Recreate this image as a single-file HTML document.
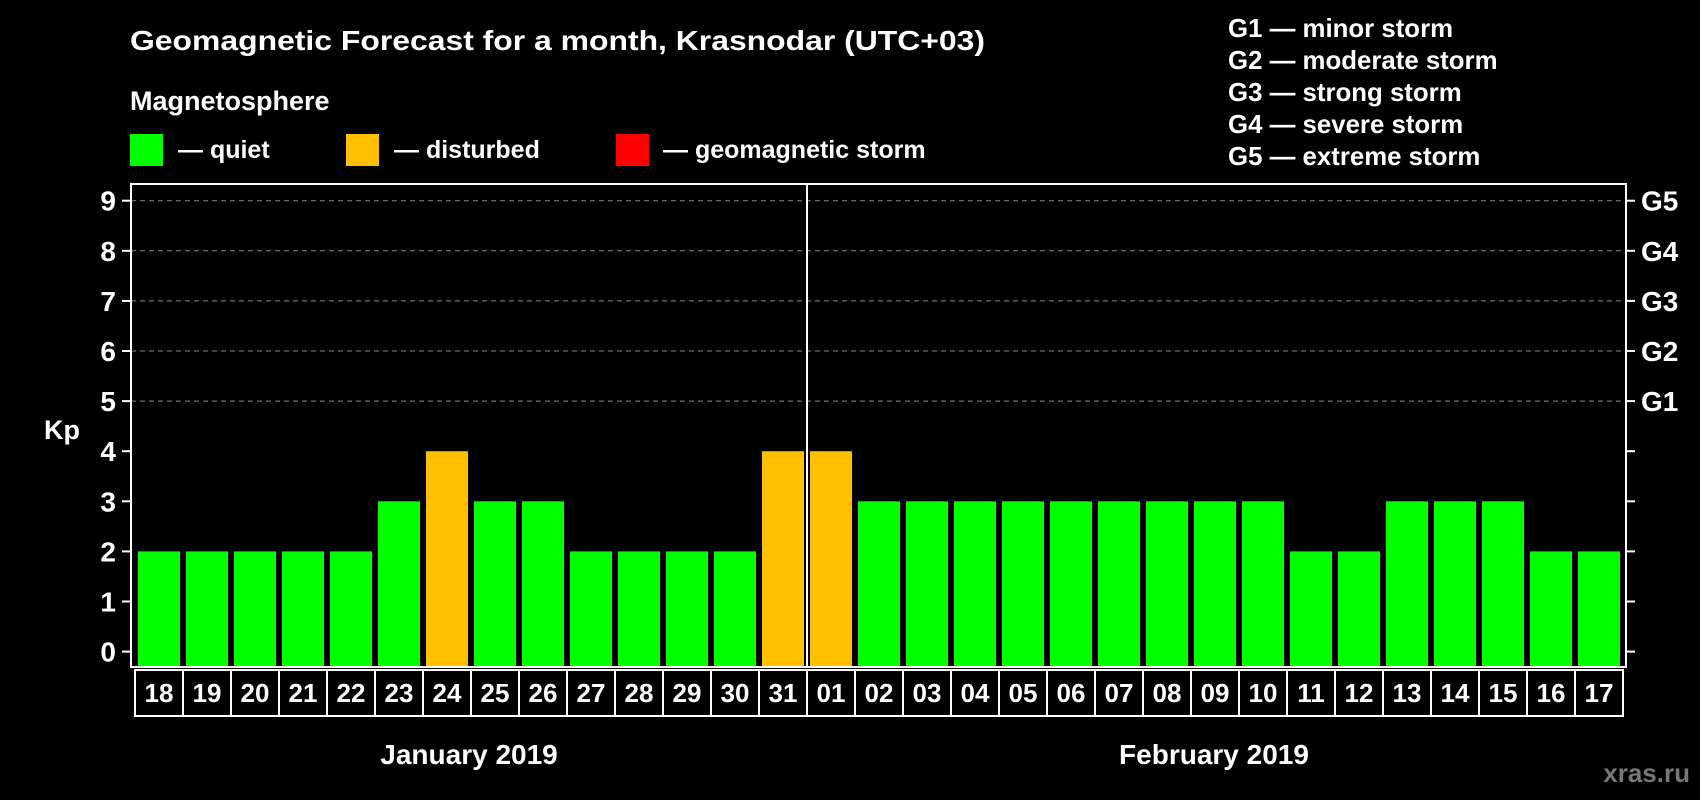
<!DOCTYPE html>
<html><head><meta charset="utf-8"><style>
html,body{margin:0;padding:0;background:#000;}
svg{display:block;font-family:"Liberation Sans",Arial,sans-serif;font-weight:bold;}
</style></head><body>
<svg id="chart" width="1700" height="800" viewBox="0 0 1700 800" xmlns="http://www.w3.org/2000/svg">
<rect width="1700" height="800" fill="#000"/>
<text x="130" y="50" font-size="28" fill="#fff" textLength="855" lengthAdjust="spacingAndGlyphs">Geomagnetic Forecast for a month, Krasnodar (UTC+03)</text>
<text x="130" y="110" font-size="27" fill="#fff">Magnetosphere</text>
<g><rect x="130" y="134" width="33" height="32" fill="#00ff00"/><text x="178" y="158" font-size="25" fill="#fff">— quiet</text></g>
<g><rect x="346" y="134" width="33" height="32" fill="#ffc000"/><text x="394" y="158" font-size="25" fill="#fff">— disturbed</text></g>
<g><rect x="616" y="134" width="33" height="32" fill="#ff0000"/><text x="663" y="158" font-size="25" fill="#fff">— geomagnetic storm</text></g>
<g font-size="25.8" fill="#fff">
<text x="1228" y="37">G1 — minor storm</text>
<text x="1228" y="69">G2 — moderate storm</text>
<text x="1228" y="101">G3 — strong storm</text>
<text x="1228" y="133">G4 — severe storm</text>
<text x="1228" y="165">G5 — extreme storm</text>
</g>
<text x="62" y="439" font-size="27" fill="#fff" text-anchor="middle">Kp</text>
<g id="grid"></g><g id="bars"></g><g id="axes"></g>
<text x="469" y="764" font-size="28" fill="#fff" text-anchor="middle">January 2019</text>
<text x="1214" y="764" font-size="28" fill="#fff" text-anchor="middle">February 2019</text>
<text x="1690" y="782" font-size="26" fill="#777" text-anchor="end">xras.ru</text>
</svg>
<script>
const days=["18","19","20","21","22","23","24","25","26","27","28","29","30","31","01","02","03","04","05","06","07","08","09","10","11","12","13","14","15","16","17"];
const kp=[2,2,2,2,2,3,4,3,3,2,2,2,2,4,4,3,3,3,3,3,3,3,3,3,2,2,3,3,3,2,2];
const yTicks=[0,1,2,3,4,5,6,7,8,9];
const gLabels=["","","","","","G1","G2","G3","G4","G5"];
const NS="http://www.w3.org/2000/svg";
const L=131,R=1626,T=184,B=667,boxL=135,slot=48;
function y(v){return 651.6-50.1*v;}
function xs(i){return boxL+slot*i;}
function color(v){return v>=5?"#ff0000":(v>=4?"#ffc000":"#00ff00");}
function mk(tag,attrs,parent){const e=document.createElementNS(NS,tag);for(const k in attrs)e.setAttribute(k,attrs[k]);parent.appendChild(e);return e;}
const grid=document.getElementById('grid'),bars=document.getElementById('bars'),axes=document.getElementById('axes');
yTicks.forEach((v,i)=>{
  if(v>=5){const g=mk('line',{x1:L,x2:R,y1:y(v),y2:y(v),stroke:'#888','stroke-width':1,'stroke-dasharray':'5,4'},grid);
  
  }
  const t1=mk('line',{x1:L-9,x2:L,y1:y(v),y2:y(v),stroke:'#fff','stroke-width':2},axes);
  
  
  const t2=mk('line',{x1:R,x2:R+9,y1:y(v),y2:y(v),stroke:'#fff','stroke-width':2},axes);
  
  
  const lb=mk('text',{x:116,y:y(v)+10,'font-size':28,fill:'#fff','text-anchor':'end'},axes);lb.textContent=v;
  
  
  if(gLabels[i]){const gl=mk('text',{x:1641,y:y(v)+10,'font-size':28,fill:'#fff'},axes);gl.textContent=gLabels[i];
  
  }
});
kp.forEach((v,i)=>{
  const r=mk('rect',{x:xs(i)+3,y:y(v),width:42,height:B-y(v),fill:color(v)},bars);
  
  
});
const frame=mk('rect',{x:L,y:T,width:R-L,height:B-T,fill:'none',stroke:'#fff','stroke-width':2},axes);


const sep=mk('line',{x1:xs(14),x2:xs(14),y1:T,y2:B,stroke:'#fff','stroke-width':2},axes);


days.forEach((d,i)=>{
  const b=mk('rect',{x:xs(i),y:670,width:slot,height:46,fill:'none',stroke:'#fff','stroke-width':2},axes);
  
  
  const t=mk('text',{x:xs(i)+slot/2,y:702,'font-size':26,fill:'#fff','text-anchor':'middle'},axes);t.textContent=d;
  
  
});
</script>
</body></html>
